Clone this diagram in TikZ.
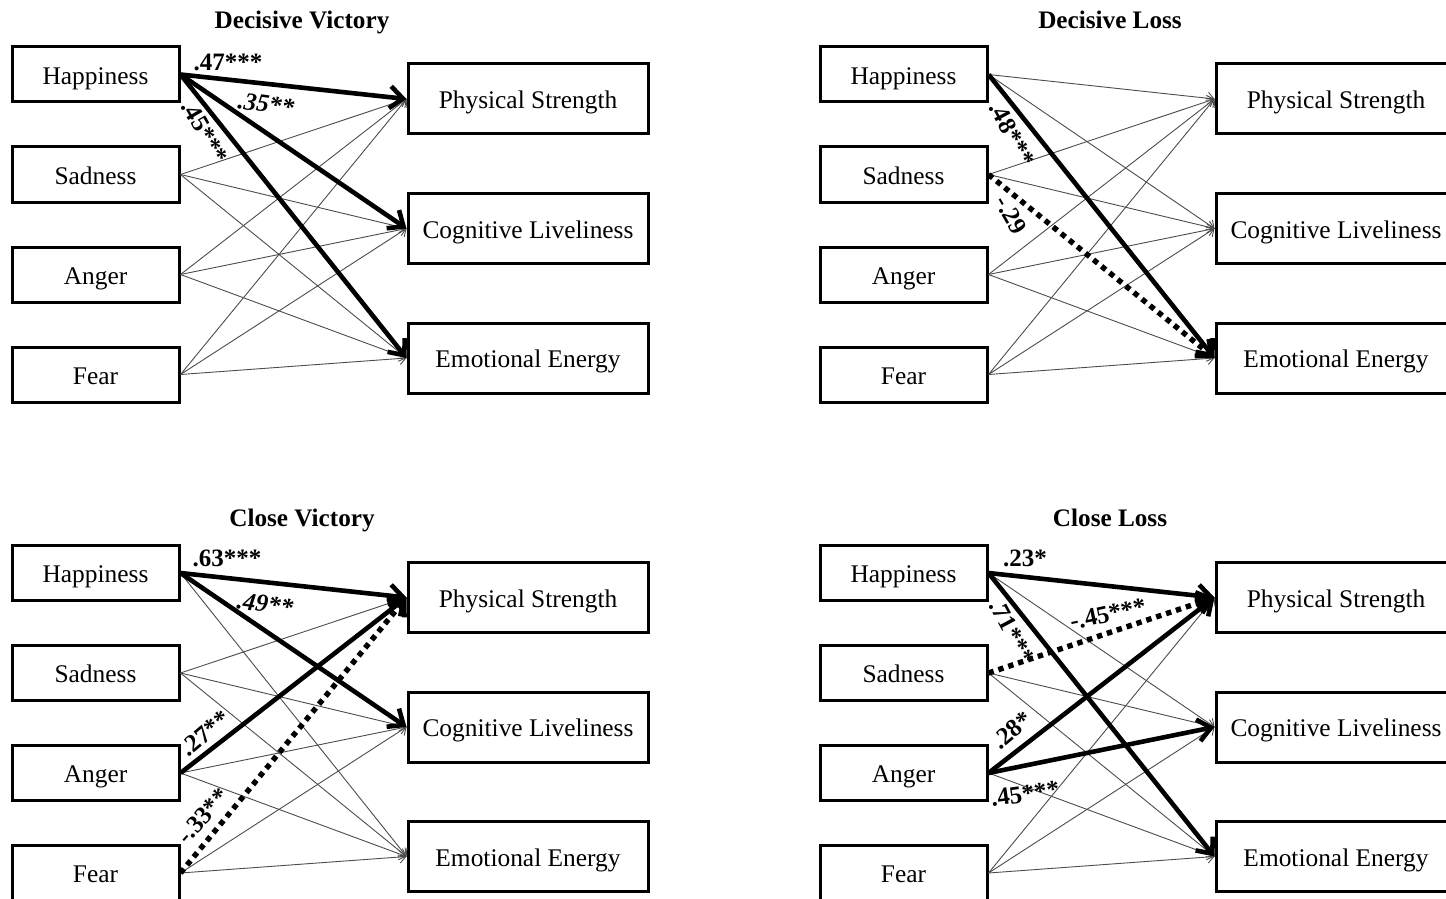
\documentclass[tikz,border=0pt]{standalone}
\usepackage{fontspec}
\setmainfont{Liberation Serif}
\usetikzlibrary{arrows.meta}
\tikzset{
  lbox/.style={draw, line width=1.5pt, minimum width=83.5pt, minimum height=27.5pt, inner sep=0pt, text height=9.6pt, text depth=0pt, font=\fontsize{12.7}{14}\selectfont},
  rbox/.style={draw, line width=1.5pt, minimum width=120pt, minimum height=35pt, inner sep=0pt, text height=9.6pt, text depth=0pt, font=\fontsize{12.7}{14}\selectfont},
  weak/.style={draw=black!70, line width=0.45pt, -{Straight Barb[length=3pt,width=6pt]}},
  strong/.style={draw=black, line width=2.3pt, -{Straight Barb[length=6.5pt,width=11pt]}},
  dots/.style={draw=black, line width=2.7pt, dash pattern=on 2.7pt off 2.5pt, -{Straight Barb[length=6.5pt,width=11pt,line width=2.3pt]}},
  coef/.style={font=\bfseries\fontsize{12.5}{14}\selectfont, inner sep=0pt},
  coefit/.style={font=\bfseries\itshape\fontsize{12.5}{14}\selectfont, inner sep=0pt},
  ttl/.style={font=\bfseries\fontsize{12.6}{14}\selectfont, inner sep=0pt, text height=8.4pt, text depth=0pt}
}
\newcommand\mkpanel[2]{%
  \node[ttl] (#1t) at (302,20) {#2};
  \node[lbox] (#1H) at (95.5,74.5) {Happiness};
  \node[lbox] (#1S) at (95.5,174.5) {Sadness};
  \node[lbox] (#1A) at (95.5,274.5) {Anger};
  \node[lbox] (#1F) at (95.5,374.5) {Fear};
  \node[rbox] (#1P) at (528,99) {Physical Strength};
  \node[rbox] (#1C) at (528,228.5) {Cognitive Liveliness};
  \node[rbox] (#1E) at (528,358) {Emotional Energy};
}
\begin{document}
\begin{tikzpicture}[x=0.5pt,y=-0.5pt]
\useasboundingbox (0,0) rectangle (1446,899);
% panels
\begin{scope}\mkpanel{dv}{Decisive Victory}\end{scope}
\begin{scope}[shift={(808,0)}]\mkpanel{dl}{Decisive Loss}\end{scope}
\begin{scope}[shift={(0,498.5)}]\mkpanel{cv}{Close Victory}\end{scope}
\begin{scope}[shift={(808,498.5)}]\mkpanel{cl}{Close Loss}\end{scope}

% Decisive Victory
\foreach \a/\b in {S/P,S/C,S/E,A/P,A/C,A/E,F/P,F/C,F/E}
  \draw[weak] (dv\a.east) -- (dv\b.west);
\draw[strong] (dvH.east) -- (dvP.west);
\draw[strong] (dvH.east) -- (dvC.west);
\draw[strong] (dvH.east) -- (dvE.west);
\node[coef] (l1) at (228,62) {.47***};
\node[coefit, rotate=-8] (l2) at (266,104) {.35**};
\node[coef, rotate=-60] (l3) at (205,132) {.45***};

% Decisive Loss
\foreach \a/\b in {H/P,H/C,S/P,S/C,A/P,A/C,A/E,F/P,F/C,F/E}
  \draw[weak] (dl\a.east) -- (dl\b.west);
\draw[strong] (dlH.east) -- (dlE.west);
\draw[dots] (dlS.east) -- (dlE.west);
\node[coef, rotate=-62] (l4) at (1012,134) {.48***};
\node[coef, rotate=-60] (l5) at (1011,215) {-.29};

% Close Victory
\foreach \a/\b in {H/E,S/P,S/C,S/E,A/C,A/E,F/C,F/E}
  \draw[weak] (cv\a.east) -- (cv\b.west);
\draw[strong] (cvH.east) -- (cvP.west);
\draw[strong] (cvH.east) -- (cvC.west);
\draw[strong] (cvA.east) -- (cvP.west);
\draw[dots] (cvF.east) -- (cvP.west);
\node[coef] (l6) at (227,558) {.63***};
\node[coefit, rotate=-8] (l7) at (265,604) {.49**};
\node[coef, rotate=40] (l8) at (205,733) {.27**};
\node[coef, rotate=48] (l9) at (203,816) {-.33**};

% Close Loss
\foreach \a/\b in {H/C,S/C,S/E,A/E,F/P,F/C,F/E}
  \draw[weak] (cl\a.east) -- (cl\b.west);
\draw[strong] (clH.east) -- (clP.west);
\draw[strong] (clH.east) -- (clE.west);
\draw[strong] (clA.east) -- (clP.west);
\draw[strong] (clA.east) -- (clC.west);
\draw[dots] (clS.east) -- (clP.west);
\node[coef] (l10) at (1025,558) {.23*};
\node[coef, rotate=-62] (l11) at (1012,632) {.71***};
\node[coef, rotate=12] (l12) at (1108,614) {-.45***};
\node[coef, rotate=40] (l13) at (1012,730) {.28*};
\node[coef, rotate=8] (l14) at (1025,794) {.45***};
\end{tikzpicture}
\end{document}
